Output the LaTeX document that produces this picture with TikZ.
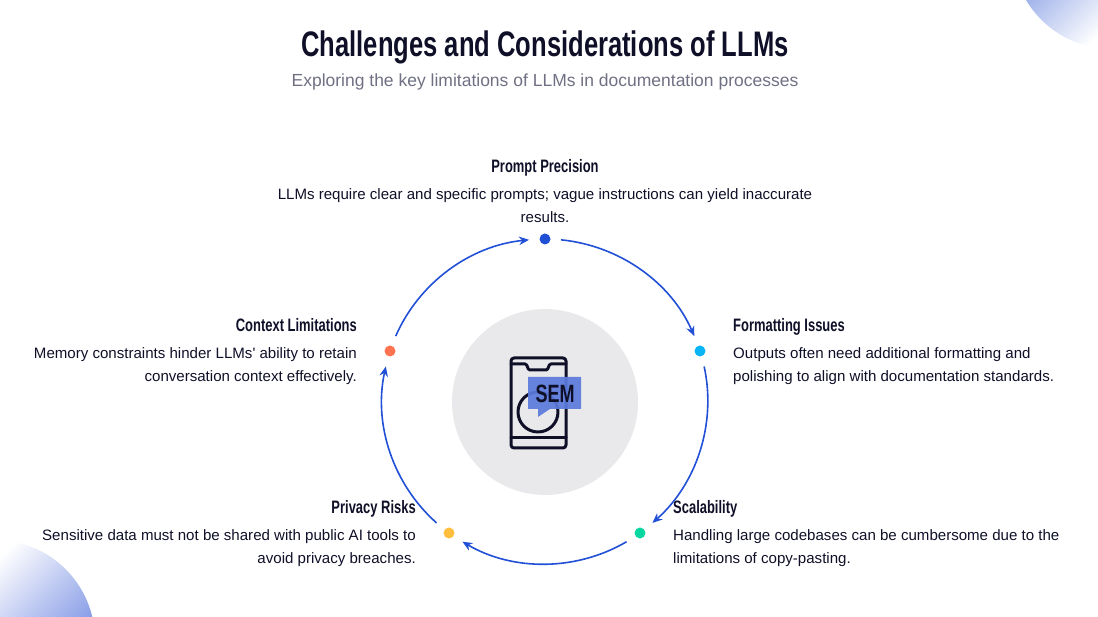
\documentclass[tikz,border=0pt]{standalone}
\usepackage{fontspec}
\usepackage{xcolor}
\usepackage{tikz}
\usetikzlibrary{arrows.meta,positioning}
\setmainfont{Liberation Sans}[Ligatures=TeXOff]
\newfontfamily\headfont[FakeStretch=0.72]{Liberation Sans Bold}

\definecolor{inkdark}{HTML}{0F1028}
\definecolor{greytext}{HTML}{6F7083}
\definecolor{ringblue}{HTML}{2150D6}
\definecolor{hubgrey}{HTML}{E9E9EB}
\definecolor{iconblue}{HTML}{5B7BDC}
\definecolor{dotcyan}{HTML}{0AB5F5}
\definecolor{dotgreen}{HTML}{06D6A0}
\definecolor{dotyellow}{HTML}{FFBE3C}
\definecolor{dotred}{HTML}{FF7350}
\definecolor{cornerstrong}{RGB}{68,104,214}
\definecolor{cornerdeep}{RGB}{85,115,220}

\pgfdeclareverticalshading{cornerfadetop}{100bp}{color(0bp)=(white); color(37bp)=(white); color(75bp)=(cornerstrong); color(100bp)=(cornerstrong)}
\pgfdeclareverticalshading{cornerfadebottom}{100bp}{color(0bp)=(cornerdeep); color(25bp)=(cornerdeep); color(64bp)=(white); color(100bp)=(white)}

\begin{document}
\begin{tikzpicture}[x=1pt, y=1pt,
    dot/.style={circle, minimum size=11pt, inner sep=0pt, outer sep=10.5pt},
    heading/.style={inner sep=0pt, text=inkdark, font=\headfont\fontsize{18}{20}\selectfont, text height=13pt, text depth=3pt},
    desc/.style={inner sep=0pt, text=inkdark, font=\fontsize{15.07}{23}\selectfont},
    arc/.style={draw=ringblue, line width=1.6pt, -{Stealth[length=10pt,width=8.5pt]}, looseness=0.913},
    phone/.style={draw=inkdark, line width=3pt, line join=round, line cap=round}]

    \useasboundingbox (0,0) rectangle (1098,617);

    % Corners
    \begin{scope}
    \clip (0,0) rectangle (1098,617);
    \shade [shading=cornerfadetop, shading angle=45] (1112,668) circle (100);
    \shade [shading=cornerfadebottom, shading angle=45] (-5,-23) circle (100);
    \end{scope}

    % Title
    \node [inner sep=0pt, text=inkdark, font=\headfont\fontsize{35.5}{40}\selectfont] (title) at (545,570) {Challenges and Considerations of LLMs};
    \node [inner sep=0pt, text=greytext, font=\fontsize{17.5}{20}\selectfont, below=10pt of title] (subtitle) {Exploring the key limitations of LLMs in documentation processes};

    % Hub
    \node [circle, fill=hubgrey, minimum size=186pt, inner sep=0pt] (hub) at (545,215) {};

    % Dots
    \node [dot, fill=ringblue] (prompt) at (545,378) {};
    \node [dot, fill=dotcyan] (format) at (700,266) {};
    \node [dot, fill=dotgreen] (scale) at (640,84) {};
    \node [dot, fill=dotyellow] (privacy) at (449,84) {};
    \node [dot, fill=dotred] (context) at (390,266) {};

    % Ring
    \path [arc] (prompt.-3) to[out=-5.6, in=113.6] (format.111);
    \path [arc] (format.-75) to[out=-77.6, in=41.6] (scale.39);
    \path [arc] (scale.-147) to[out=-149.6, in=-30.4] (privacy.-33);
    \path [arc] (privacy.141) to[out=138.4, in=-102.4] (context.-105);
    \path [arc] (context.69) to[out=66.4, in=185.6] (prompt.183);

    % Icon
    \draw [phone, rounded corners=3pt] (511,259) rectangle (566,169);
    \draw [phone] (511,253) -- (525,253) to[out=0, in=180] (530,247) -- (546,247) to[out=0, in=180] (551,253) -- (566,253);
    \draw [phone] (511,179) -- (566,179);
    \draw [phone] (538,205) circle (20);
    \fill [iconblue, opacity=0.93] (528,240) -- (581,240) -- (581,208) -- (550,208) -- (538,200) -- (538,208) -- (528,208) -- cycle;
    \node [inner sep=0pt, text=inkdark, font=\headfont\fontsize{25}{25}\selectfont] (sem) at (555,223) {SEM};

    % Labels
    \node [heading] (promptHead) at (545,449) {Prompt Precision};
    \node [desc, align=center, below=12pt of promptHead] (promptText) {LLMs require clear and specific prompts; vague instructions can yield inaccurate\\results.};

    \node [heading, anchor=west] (formatHead) at (733,290) {Formatting Issues};
    \node [desc, align=left, below=12pt of formatHead.south west, anchor=north west] (formatText) {Outputs often need additional formatting and\\polishing to align with documentation standards.};

    \node [heading, anchor=west] (scaleHead) at (673,108) {Scalability};
    \node [desc, align=left, below=12pt of scaleHead.south west, anchor=north west] (scaleText) {Handling large codebases can be cumbersome due to the\\limitations of copy-pasting.};

    \node [heading, anchor=east] (privacyHead) at (416,108) {Privacy Risks};
    \node [desc, align=right, below=12pt of privacyHead.south east, anchor=north east] (privacyText) {Sensitive data must not be shared with public AI tools to\\avoid privacy breaches.};

    \node [heading, anchor=east] (contextHead) at (357,290) {Context Limitations};
    \node [desc, align=right, below=12pt of contextHead.south east, anchor=north east] (contextText) {Memory constraints hinder LLMs' ability to retain\\conversation context effectively.};

\end{tikzpicture}
\end{document}
